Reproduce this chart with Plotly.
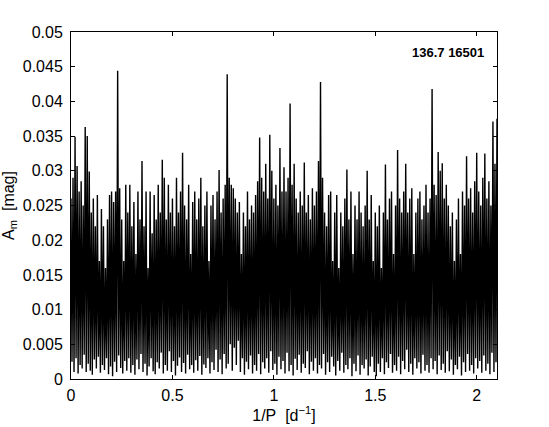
import numpy as np
import plotly.graph_objects as go

# Amplitude spectrum (mag)
# local maxima, sampled at 1/P = 0.00, 0.01, ..., 2.10 d^-1
amp_high = [
    0.026, 0.029, 0.0349, 0.0307, 0.027, 0.0285, 0.025, 0.0363, 0.035, 0.0299,
    0.024, 0.026, 0.022, 0.0265, 0.017, 0.0245, 0.022, 0.016, 0.023, 0.0265,
    0.027, 0.0255, 0.027, 0.0444, 0.0275, 0.023, 0.017, 0.028, 0.024, 0.028,
    0.022, 0.0255, 0.018, 0.027, 0.023, 0.0314, 0.022, 0.027, 0.016, 0.027,
    0.021, 0.0265, 0.023, 0.028, 0.024, 0.0316, 0.029, 0.023, 0.028, 0.024,
    0.026, 0.022, 0.029, 0.024, 0.027, 0.0326, 0.025, 0.023, 0.028, 0.018,
    0.0255, 0.027, 0.023, 0.026, 0.029, 0.022, 0.025, 0.027, 0.017, 0.025,
    0.0265, 0.023, 0.027, 0.0301, 0.024, 0.026, 0.028, 0.0439, 0.029, 0.028,
    0.0275, 0.026, 0.024, 0.0255, 0.018, 0.024, 0.022, 0.027, 0.023, 0.025,
    0.024, 0.0265, 0.0285, 0.0348, 0.029, 0.027, 0.031, 0.026, 0.0352, 0.030,
    0.026, 0.028, 0.025, 0.0333, 0.027, 0.0305, 0.027, 0.029, 0.0397, 0.028,
    0.031, 0.026, 0.024, 0.027, 0.025, 0.0312, 0.024, 0.0265, 0.023, 0.0275,
    0.025, 0.027, 0.0314, 0.0428, 0.029, 0.024, 0.022, 0.0265, 0.027, 0.017,
    0.024, 0.0265, 0.016, 0.024, 0.022, 0.026, 0.0302, 0.023, 0.027, 0.018,
    0.025, 0.023, 0.027, 0.024, 0.022, 0.025, 0.030, 0.023, 0.0265, 0.017,
    0.024, 0.022, 0.025, 0.016, 0.024, 0.0309, 0.023, 0.026, 0.027, 0.018,
    0.025, 0.033, 0.026, 0.024, 0.027, 0.031, 0.024, 0.026, 0.0275, 0.018,
    0.024, 0.026, 0.027, 0.023, 0.025, 0.028, 0.024, 0.026, 0.0418, 0.028,
    0.0265, 0.0327, 0.030, 0.0311, 0.026, 0.028, 0.025, 0.022, 0.024, 0.017,
    0.023, 0.026, 0.018, 0.027, 0.025, 0.0321, 0.026, 0.0275, 0.024, 0.0285,
    0.0326, 0.027, 0.025, 0.029, 0.0325, 0.026, 0.0285, 0.025, 0.0371, 0.031,
    0.0375,
]

# local minima, sampled at 1/P = 0.005, 0.015, ..., 2.095 d^-1
amp_low = [
    0.0025, 0.0010, 0.0030, 0.0008, 0.0020, 0.0015, 0.0035, 0.0010, 0.0022, 0.0012,
    0.0006, 0.0028, 0.0015, 0.0032, 0.0009, 0.0020, 0.0013, 0.0030, 0.0007, 0.0018,
    0.0004, 0.0025, 0.0010, 0.0034, 0.0016, 0.0008, 0.0026, 0.0012, 0.0030, 0.0009,
    0.0020, 0.0006, 0.0028, 0.0014, 0.0036, 0.0010, 0.0022, 0.0005, 0.0018, 0.0030,
    0.0011, 0.0007, 0.0024, 0.0015, 0.0038, 0.0008, 0.0020, 0.0012, 0.0040, 0.0010,
    0.0026, 0.0005, 0.0019, 0.0031, 0.0010, 0.0023, 0.0008, 0.0035, 0.0014, 0.0020,
    0.0009, 0.0027, 0.0012, 0.0033, 0.0006, 0.0021, 0.0016, 0.0030, 0.0008, 0.0024,
    0.0013, 0.0042, 0.0010, 0.0028, 0.0007, 0.0036, 0.0015, 0.0022, 0.0050, 0.0012,
    0.0045, 0.0020, 0.0055, 0.0010, 0.0030, 0.0006, 0.0025, 0.0014, 0.0034, 0.0008,
    0.0020, 0.0012, 0.0036, 0.0007, 0.0024, 0.0015, 0.0030, 0.0009, 0.0040, 0.0013,
    0.0022, 0.0006, 0.0032, 0.0014, 0.0026, 0.0008, 0.0038, 0.0011, 0.0020, 0.0005,
    0.0029, 0.0013, 0.0035, 0.0009, 0.0022, 0.0016, 0.0040, 0.0007, 0.0025, 0.0012,
    0.0030, 0.0008, 0.0020, 0.0015, 0.0036, 0.0006, 0.0024, 0.0010, 0.0032, 0.0018,
    0.0005, 0.0026, 0.0012, 0.0038, 0.0009, 0.0020, 0.0014, 0.0030, 0.0004, 0.0022,
    0.0011, 0.0034, 0.0006, 0.0020, 0.0015, 0.0028, 0.0005, 0.0018, 0.0032, 0.0010,
    0.0004, 0.0022, 0.0010, 0.0030, 0.0007, 0.0024, 0.0016, 0.0036, 0.0009, 0.0020,
    0.0012, 0.0032, 0.0007, 0.0026, 0.0014, 0.0042, 0.0010, 0.0022, 0.0006, 0.0030,
    0.0015, 0.0024, 0.0008, 0.0035, 0.0012, 0.0020, 0.0009, 0.0030, 0.0014, 0.0026,
    0.0007, 0.0034, 0.0013, 0.0022, 0.0009, 0.0040, 0.0011, 0.0028, 0.0006, 0.0020,
    0.0014, 0.0032, 0.0005, 0.0024, 0.0010, 0.0036, 0.0012, 0.0020, 0.0008, 0.0030,
    0.0015, 0.0026, 0.0009, 0.0034, 0.0012, 0.0022, 0.0007, 0.0038, 0.0010, 0.0024,
]

freq_step = 0.01          # d^-1 between successive maxima
label_text = "136.7 16501"
x_ticks = [0, 0.5, 1, 1.5, 2]

# interleave maxima and minima into one spectrum trace
freq_high = np.arange(len(amp_high)) * freq_step
freq_low = np.arange(len(amp_low)) * freq_step + freq_step / 2
freq, amp = [], []
for i in range(len(amp_high)):
    freq.append(freq_high[i]); amp.append(amp_high[i])
    if i < len(amp_low):
        freq.append(freq_low[i]); amp.append(amp_low[i])

FONT = "Liberation Sans, Arial, Helvetica, sans-serif"

fig = go.Figure()
fig.add_trace(go.Scatter(x=freq, y=amp, mode="lines",
                         line=dict(color="black", width=1.4),
                         hoverinfo="skip", showlegend=False))

axis_common = dict(showline=True, linecolor="black", linewidth=1, mirror="ticks",
                   ticks="inside", ticklen=4, tickcolor="black", tickwidth=1,
                   showgrid=False, zeroline=False, automargin=False,
                   tickfont=dict(family=FONT, size=16, color="black"))

fig.update_xaxes(range=[0, 2.1], tickvals=x_ticks, ticklabelstandoff=2,
                 title=dict(text="1/P\u00a0\u00a0[d<sup>\u22121</sup>]", standoff=4,
                            font=dict(family=FONT, size=16, color="black")),
                 **axis_common)
fig.update_yaxes(range=[0, 0.05], dtick=0.005, ticklabelstandoff=4,
                 title=dict(text="A<sub>m</sub>\u00a0\u00a0[mag]", standoff=6,
                            font=dict(family=FONT, size=16, color="black")),
                 **axis_common)

L, R, T, B = 71, 52, 32, 48
pw, ph = 549 - L - R, 427 - T - B

fig.add_annotation(x=(486 - L) / pw, y=1 - (53 - T) / ph, xref="paper", yref="paper",
                   text=f"<b>{label_text}</b>",
                   showarrow=False, xanchor="right", yanchor="middle",
                   font=dict(family=FONT, size=13, color="black"))

fig.update_layout(width=549, height=427, paper_bgcolor="white", plot_bgcolor="white",
                  margin=dict(l=L, r=R, t=T, b=B))

fig.write_html("out.html", config={"displayModeBar": False},
               post_script="document.body.style.margin='0';document.body.style.overflow='hidden';")
